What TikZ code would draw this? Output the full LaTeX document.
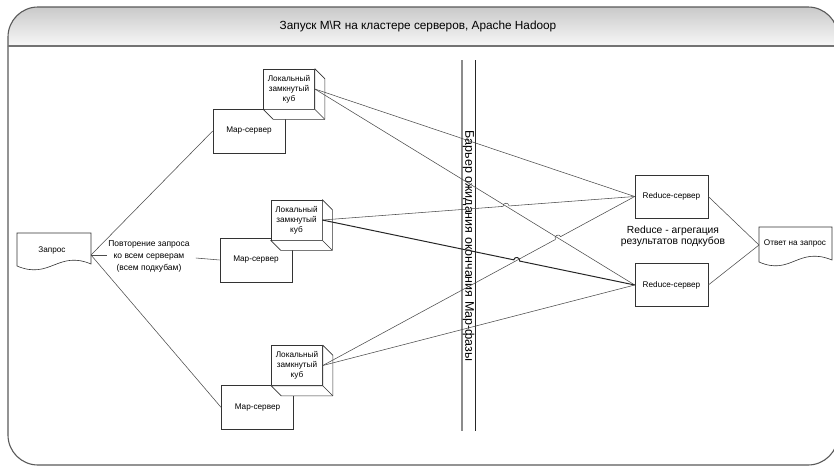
\documentclass[tikz,border=0pt]{standalone}
\usepackage{fontspec}
\setmainfont{Liberation Sans}
\usetikzlibrary{calc,intersections}

\tikzset{
  frameline/.style={draw=black!65, line width=1.1pt},
  box/.style={draw=black!80, fill=white, line width=0.6pt, inner sep=0pt,
    minimum width=72pt, minimum height=44pt, align=center,
    font=\fontsize{8.2}{10}\selectfont},
  cubeface/.style={draw=black!80, fill=white, line width=0.6pt, inner sep=0pt,
    minimum width=51pt, minimum height=40pt, align=center,
    font=\fontsize{8.2}{10}\selectfont},
  cubeedge/.style={draw=black!80, fill=white, line width=0.6pt, line join=round},
  docline/.style={draw=black!80, fill=white, line width=0.6pt},
  doctext/.style={inner sep=0pt, align=center, font=\fontsize{8.2}{10}\selectfont},
  conn/.style={draw=black!70, line width=0.55pt},
  boldconn/.style={draw=black!85, line width=1pt}
}

\begin{document}
\begin{tikzpicture}[x=1pt, y=-1pt]
\useasboundingbox (0,0) rectangle (834,466);

% outer frame: header band and body
\path[top color=gray!42, bottom color=gray!6]
  (8,46) -- (8,37) arc[start angle=180, end angle=270, radius=30]
  -- (808,7) arc[start angle=270, end angle=360, radius=30] -- (838,46) -- cycle;
\draw[frameline]
  (8,46) -- (8,37) arc[start angle=180, end angle=270, radius=30]
  -- (808,7) arc[start angle=270, end angle=360, radius=30] -- (838,46);
\draw[frameline]
  (8,46) -- (8,435) arc[start angle=180, end angle=90, radius=30]
  -- (808,465) arc[start angle=90, end angle=0, radius=30] -- (838,46);
\draw[draw=black!55, line width=1.6pt] (8,46) -- (838,46);
\node[font=\fontsize{11.8}{14}\selectfont] (title) at (418,26)
  {Запуск M\textbackslash R на кластере серверов, Apache Hadoop};

% barrier between the map and reduce phases
\draw[draw=black!45, line width=1.4pt] (462,60) -- (462,431);
\draw[draw=black!85, line width=0.8pt] (475,60) -- (475,431);
\node[rotate=-90, font=\fontsize{12.5}{14}\selectfont] (barrier) at (468.5,246)
  {Барьер ожидания окончания Map-фазы};

% request and answer documents
\draw[docline] (17,233) -- (91,233) -- (91,264)
  .. controls (58,250) and (50,280) .. (17,266) -- cycle;
\node[doctext] (req) at (52,250) {Запрос};
\coordinate (reqE) at (91,255);

\draw[docline] (759,227) -- (832,227) -- (832,260)
  .. controls (798,246) and (791,276) .. (759,262) -- cycle;
\node[doctext] (ans) at (795,243) {Ответ на запрос};
\coordinate (ansW) at (759,245);

% map servers
\node[box] (ms1) at (249,131)   {Map-сервер};
\node[box] (ms2) at (256,260)   {Map-сервер};
\node[box] (ms3) at (257.5,407.5) {Map-сервер};

% local closed cubes
\node[cubeface] (c1) at (289,89)    {Локальный\\замкнутый\\куб};
\node[cubeface] (c2) at (296.5,220) {Локальный\\замкнутый\\куб};
\node[cubeface] (c3) at (297,365.5) {Локальный\\замкнутый\\куб};
\foreach \c in {c1,c2,c3}{
  \draw[cubeedge] (\c.north east) -- ++(10,10) -- ($(\c.south east)+(10,10)$)
    -- ($(\c.south west)+(10,10)$) -- (\c.south west) -- (\c.south east) -- cycle;
  \draw[cubeedge] (\c.south east) -- ++(10,10);
}

% reduce servers
\node[box, minimum width=73pt, minimum height=43pt] (r1) at (671.5,196.5) {Reduce-сервер};
\node[box, minimum width=73pt, minimum height=43pt] (r2) at (671.5,285)   {Reduce-сервер};
\node[align=center, font=\fontsize{10.3}{11}\selectfont] (redlbl) at (673,236.5)
  {Reduce - агрегация\\результатов подкубов};

% request fan-out to the map servers
\draw[conn] (reqE) -- (ms1.west);
\draw[conn] (reqE) -- (ms3.west);
\node[align=center, inner sep=1pt, font=\fontsize{8.5}{12}\selectfont] (rep) at (149,256)
  {Повторение запроса\\ко всем серверам\\(всем подкубам)};
\draw[conn] (reqE) -- (rep.west |- reqE);
\draw[conn] ($(rep.east)+(5,2)$) coordinate (repE) -- (ms2.west);

% cubes to reduce servers, with small line jumps at crossings
\path[name path=p12] (c1.east) -- (r2.west);
\path[name path=p21] (c2.east) -- (r1.west);
\path[name path=p22] (c2.east) -- (r2.west);
\path[name path=p31] (c3.east) -- (r1.west);
\path[name intersections={of=p12 and p21, by=ja}];
\path[name intersections={of=p12 and p31, by=jb}];
\path[name intersections={of=p22 and p31, by=jc}];

\coordinate (ja1) at ($(ja)!3pt!(c2.east)$);
\coordinate (ja2) at ($(ja)!3pt!(r1.west)$);
\coordinate (jb1) at ($(jb)!3pt!(c3.east)$);
\coordinate (jb2) at ($(jb)!3pt!(r1.west)$);
\coordinate (jc1) at ($(jc)!3pt!(c2.east)$);
\coordinate (jc2) at ($(jc)!3pt!(r2.west)$);

\draw[conn] (c1.east) -- (r1.west);
\draw[conn] (c1.east) -- (r2.west);
\draw[conn] (c2.east) -- (ja1)
  .. controls ($(ja1)!4pt!90:(ja2)$) and ($(ja2)!4pt!-90:(ja1)$) .. (ja2) -- (r1.west);
\draw[boldconn] (c2.east) -- (jc1)
  .. controls ($(jc1)!4pt!90:(jc2)$) and ($(jc2)!4pt!-90:(jc1)$) .. (jc2) -- (r2.west);
\draw[conn] (c3.east) -- (jb1)
  .. controls ($(jb1)!4pt!90:(jb2)$) and ($(jb2)!4pt!-90:(jb1)$) .. (jb2) -- (r1.west);
\draw[conn] (c3.east) -- (r2.west);

% reduce servers to the answer
\draw[conn] (r1.east) -- (ansW);
\draw[conn] (r2.east) -- (ansW);
\end{tikzpicture}
\end{document}
